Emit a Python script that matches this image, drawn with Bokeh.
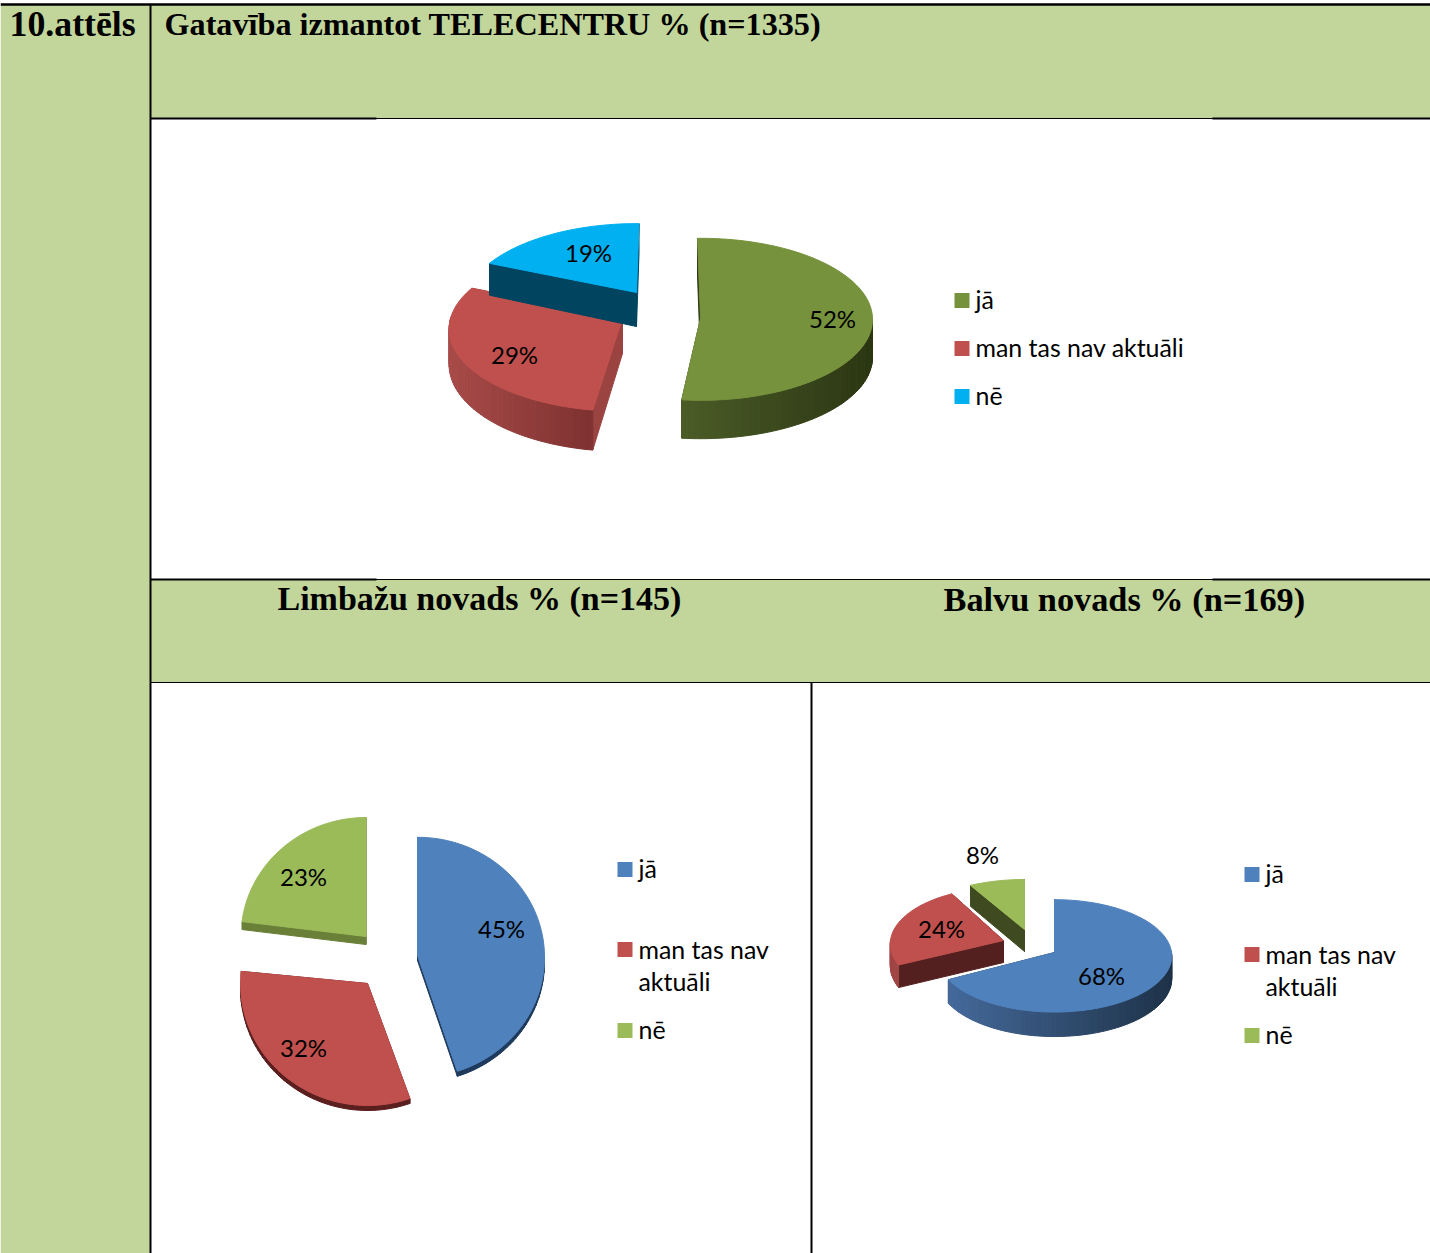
import math
from bokeh.plotting import figure
from bokeh.models import Range1d
from bokeh.core.properties import value
from bokeh.embed import file_html
from bokeh.resources import INLINE

# ---- data ----
CATEGORIES = ["jā", "man tas nav aktuāli", "nē"]
TELECENTRS_VALUES = [52, 29, 19]
LIMBAZI_VALUES = [45, 32, 23]
BALVI_VALUES = [68, 24, 8]
FIGURE_LABEL = "10.attēls"
TITLE_MAIN = "Gatavība izmantot TELECENTRU % (n=1335)"
TITLE_LIMBAZI = "Limbažu novads % (n=145)"
TITLE_BALVI = "Balvu novads % (n=169)"

# ---- palette ----
HEADER = "#c2d69b"
TELE_TOPS = ["#76923c", "#c0504d", "#00b0f0"]
STD_TOPS = ["#4f81bd", "#c0504d", "#9bbb59"]

W, H = 1430, 1253
p = figure(width=W, height=H, output_backend="svg", toolbar_location=None,
           x_range=Range1d(0, 1430), y_range=Range1d(1253, 0), min_border=0)
p.axis.visible = False
p.grid.visible = False
p.outline_line_color = None
p.background_fill_color = "white"
p.border_fill_color = "white"


def hex2rgb(h):
    return tuple(int(h[i:i + 2], 16) for i in (1, 3, 5))


def mix(a, b, t):
    ra, rb = hex2rgb(a), hex2rgb(b)
    return "#%02x%02x%02x" % tuple(round(x + (y - x) * t) for x, y in zip(ra, rb))


def draw_pie(values, colors, shapes, label_at):
    total = sum(values)
    start = 0.0
    for v, col, sh, at in zip(values, colors, shapes, label_at):
        xs, ys, fills = [], [], []
        end = start + 360.0 * v / total
        ax, ay, rx, ry, k, d, rot = sh["ax"], sh["ay"], sh["rx"], sh["ry"], sh["k"], sh["d"], sh["rot"]
        view_end = end + sh.get("trim", 0.0)   # foreshortening of the drawn edge

        def proj(theta):
            t = math.radians(theta + rot)
            uu, vv = math.sin(t), -math.cos(t)
            s = 1.0 / (1.0 - k * vv)
            return ax + rx * uu * s, ay + ry * vv * s, d * s, vv

        n = max(8, int((view_end - start) / 2))
        thetas = [start + (view_end - start) * i / n for i in range(n + 1)]
        pts = [proj(t) for t in thetas]

        # radial walls
        for e in (pts[0], pts[-1]):
            xs.append([ax, e[0], e[0], ax])
            ys.append([ay, e[1], e[1] + e[2], ay + d])
            fills.append(sh["wall"])

        # outer rim, shaded from left to right
        x_lo, x_hi = min(q[0] for q in pts), max(q[0] for q in pts)
        for a, b in zip(pts[:-1], pts[1:]):
            if (a[3] + b[3]) / 2 < -0.01:
                continue
            t = ((a[0] + b[0]) / 2 - x_lo) / max(1.0, x_hi - x_lo)
            xs.append([a[0], b[0], b[0], a[0]])
            ys.append([a[1], b[1], b[1] + b[2], a[1] + a[2]])
            fills.append(mix(sh["rim_l"], sh["rim_r"], t))

        # top face
        xs.append([ax] + [q[0] for q in pts])
        ys.append([ay] + [q[1] for q in pts])
        fills.append(col)

        p.patches(xs, ys, fill_color=fills, line_color=fills, line_width=1.0)

        p.text([at[0]], [at[1]], text=[f"{v}%"], text_font=value("Lato"),
               text_font_size=value("24px"), text_color="#000000",
               text_align="center", text_baseline="middle")
        start = end


def draw_legend(colors, x, ys_sq, lines):
    p.rect([x + 7.5] * len(colors), ys_sq, width=15, height=15, fill_color=colors, line_color=None)
    for lab, ty in lines:
        p.text([x + 21], [ty], text=[lab], text_font=value("Lato"), text_font_size=value("24.9px"),
               text_color="#000000", text_align="left", text_baseline="middle")


# ---- table background ----
p.quad(left=[0], right=[150], top=[4], bottom=[1253], fill_color=HEADER, line_color=None)
p.quad(left=[150, 150], right=[1430, 1430], top=[4, 579], bottom=[118, 682],
       fill_color=HEADER, line_color=None)
# table rules
p.segment(x0=[0], y0=[4], x1=[1430], y1=[4], line_color="black", line_width=2.5)
p.segment(x0=[150, 811], y0=[4, 682], x1=[150, 811], y1=[1253, 1253], line_color="black", line_width=2)
p.segment(x0=[150, 150, 150], y0=[118, 579, 682], x1=[1430, 1430, 1430], y1=[118, 579, 682],
          line_color="black", line_width=1.2)
p.segment(x0=[150, 1212, 150, 1212], y0=[118, 118, 579, 579], x1=[376, 1430, 376, 1430],
          y1=[118, 118, 579, 579], line_color="black", line_width=2)

# ---- headings ----
title_kw = dict(text_font=value("Liberation Serif"), text_font_style="bold",
                text_color="#000000", text_baseline="middle", text_align="left")
p.text([9], [23], text=[FIGURE_LABEL], text_font_size=value("35.8px"), **title_kw)
p.text([164], [23], text=[TITLE_MAIN], text_font_size=value("32.2px"), **title_kw)
p.text([277], [598], text=[TITLE_LIMBAZI], text_font_size=value("34px"), **title_kw)
p.text([943], [598], text=[TITLE_BALVI], text_font_size=value("34.3px"), **title_kw)

# ---- pies ----
draw_pie(TELECENTRS_VALUES, TELE_TOPS, [
    dict(ax=700, ay=318, rx=172, ry=81, k=0.01, d=38, rot=-1.0, wall="#2e3815", rim_l="#4a5c27", rim_r="#2c3613"),
    dict(ax=622, ay=318, rx=172, ry=81, k=0.127, d=35, rot=1.5, wall="#9a4341", rim_l="#a84b49", rim_r="#7d3130"),
    dict(ax=636, ay=292, rx=170, ry=81, k=0.176, d=34, rot=1, wall="#00445f", rim_l="#00445f", rim_r="#00445f"),
], [(832, 318), (514, 354), (588, 252)])

draw_pie(LIMBAZI_VALUES, STD_TOPS, [
    dict(ax=417, ay=955, rx=127, ry=120, k=0.015, d=5, rot=0, wall="#1e3a5c", rim_l="#1e3a5c", rim_r="#1e3a5c"),
    dict(ax=367, ay=983, rx=127, ry=122, k=0.0, d=5, rot=-1.5, wall="#5a1f1e", rim_l="#5a1f1e", rim_r="#5a1f1e"),
    dict(ax=365.5, ay=936, rx=125, ry=119, k=0.0, d=8, rot=0, wall="#6a8038", rim_l="#6a8038", rim_r="#6a8038"),
], [(501, 928), (303, 1047), (303, 876)])

draw_pie(BALVI_VALUES, STD_TOPS, [
    dict(ax=1054, ay=952, rx=117, ry=56, k=0.06, d=23, rot=0, trim=-3, wall="#1e3248", rim_l="#44699a", rim_r="#1e3248"),
    dict(ax=1003, ay=940, rx=113, ry=56, k=0.06, d=22, rot=0, wall="#54201f", rim_l="#a04644", rim_r="#a04644"),
    dict(ax=1024, ay=929, rx=118, ry=53, k=0.06, d=22, rot=0, wall="#404a20", rim_l="#404a20", rim_r="#404a20"),
], [(1101, 975), (941, 928), (982, 854)])

# ---- legends ----
draw_legend(TELE_TOPS, 954, [300, 348, 396],
            [(CATEGORIES[0], 298), (CATEGORIES[1], 346), (CATEGORIES[2], 394)])
wrap_a, wrap_b = CATEGORIES[1].rsplit(" ", 1)
draw_legend(STD_TOPS, 617, [869, 949, 1030],
            [(CATEGORIES[0], 867), (wrap_a, 948), (wrap_b, 980), (CATEGORIES[2], 1028)])
draw_legend(STD_TOPS, 1244, [874, 954, 1035],
            [(CATEGORIES[0], 872), (wrap_a, 953), (wrap_b, 985), (CATEGORIES[2], 1033)])

open("out.html", "w").write(file_html(p, INLINE))
